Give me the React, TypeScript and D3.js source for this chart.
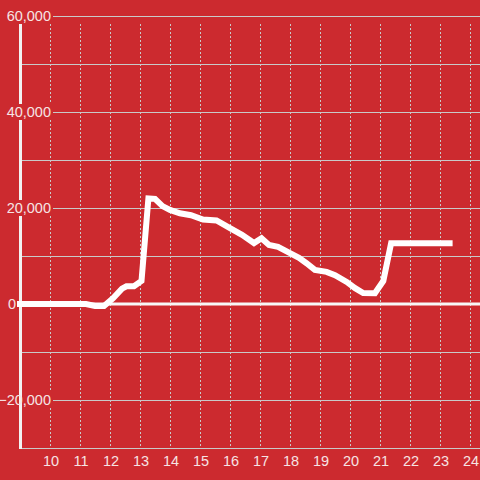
import React from "react";
import * as d3 from "d3";

const xValues = [9, 11.2, 11.5, 11.8, 12.1, 12.4, 12.55, 12.8, 13.05, 13.28, 13.5, 13.75, 14.0, 14.33, 14.7, 15.1, 15.55, 16.0, 16.4, 16.8, 17.05, 17.3, 17.6, 18.0, 18.3, 18.55, 18.83, 19.22, 19.5, 19.89, 20.17, 20.44, 20.83, 21.11, 21.37, 23.32];
const yValues = [0, 0, -400, -400, 1200, 3200, 3700, 3700, 4800, 22000, 21900, 20400, 19600, 18900, 18500, 17600, 17400, 15800, 14400, 12700, 13700, 12300, 11900, 10600, 9600, 8500, 7100, 6700, 6000, 4600, 3300, 2300, 2250, 4800, 12640, 12640];
const xTicks = [10, 11, 12, 13, 14, 15, 16, 17, 18, 19, 20, 21, 22, 23, 24];
const yLabelTicks = [-20000, 0, 20000, 40000, 60000];
const yGridTicks = [-20000, -10000, 10000, 20000, 30000, 40000, 50000, 60000];

const W = 480;
const H = 480;
const BG = "#cc2a2f";
const GRID = "#c9c9c9";
const TEXT = "#f6e4e4";
const FONT = "'Liberation Sans', Arial, sans-serif";

export default function App() {
  const x = d3.scaleLinear().domain([9, 24.3333]).range([20, 480]);
  const y = d3.scaleLinear().domain([-30000, 60000]).range([448, 16]);
  const data = xValues.map((v, i) => [v, yValues[i]] as [number, number]);
  const line = d3
    .line<[number, number]>()
    .x((d) => x(d[0]))
    .y((d) => y(d[1]));
  const fmt = d3.format(",");

  return (
    <svg
      width={W}
      height={H}
      style={{ position: "absolute", left: 0, top: 0, display: "block" }}
    >
      <rect x={0} y={0} width={W} height={H} fill={BG} />
      {/* horizontal grid */}
      {yGridTicks.map((t) => (
        <line key={"h" + t} x1={x(9)} x2={W} y1={y(t) + 0.5} y2={y(t) + 0.5} stroke={GRID} strokeWidth={1} />
      ))}
      {/* vertical dashed grid */}
      {xTicks.map((t) => (
        <line
          key={"v" + t}
          x1={x(t) + 0.5}
          x2={x(t) + 0.5}
          y1={y(60000) + 8}
          y2={y(-30000)}
          stroke={GRID}
          strokeWidth={1}
          strokeDasharray="2,2"
        />
      ))}
      {/* bottom axis line */}
      <line x1={x(9)} x2={W} y1={y(-30000) + 0.5} y2={y(-30000) + 0.5} stroke={GRID} strokeWidth={1} />
      {/* left axis bar */}
      <line x1={x(9) + 0.5} x2={x(9) + 0.5} y1={y(60000)} y2={y(-30000) + 1} stroke="#f2f2f2" strokeWidth={3} />
      {/* zero line */}
      <line x1={x(9) - 3} x2={W} y1={y(0)} y2={y(0)} stroke="#f8f8f8" strokeWidth={3} />
      {/* y labels with background */}
      {yLabelTicks.map((t) =>
        t === 0 ? (
          <text
            key={"yl" + t}
            x={16}
            y={y(t)}
            dy="0.36em"
            textAnchor="end"
            fill={TEXT}
            fontFamily={FONT}
            fontSize={14.5}
          >
            {fmt(t)}
          </text>
        ) : (
          <g key={"yl" + t}>
            <rect
              x={t > 0 ? 0 : x(9) + 2}
              y={y(t) - 8}
              width={t > 0 ? 53 : 53 - (x(9) + 2)}
              height={16}
              fill={BG}
            />
            <text
              x={51}
              y={y(t)}
              dy="0.36em"
              textAnchor="end"
              fill={TEXT}
              fontFamily={FONT}
              fontSize={14.5}
            >
              {fmt(t)}
            </text>
          </g>
        )
      )}
      {/* x labels */}
      {xTicks.map((t) => (
        <text
          key={"xl" + t}
          x={x(t) + 1}
          y={461}
          dy="0.36em"
          textAnchor="middle"
          fill={TEXT}
          fontFamily={FONT}
          fontSize={14.5}
        >
          {t}
        </text>
      ))}
      {/* data line */}
      <path
        d={line(data) || ""}
        fill="none"
        stroke="#ffffff"
        strokeWidth={6}
        strokeLinejoin="miter"
        strokeLinecap="square"
      />
    </svg>
  );
}
